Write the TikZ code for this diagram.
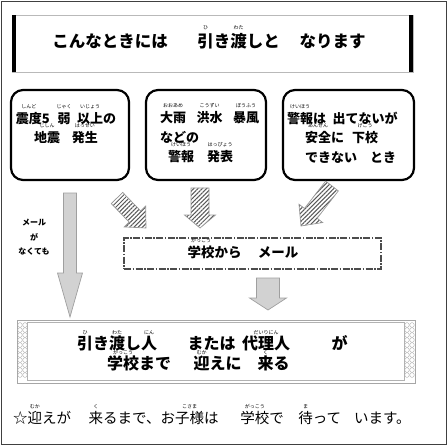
\documentclass[tikz,border=0pt]{standalone}
\usepackage{fontspec}
\setmainfont{Noto Sans CJK JP}
\usetikzlibrary{calc,patterns.meta}

\newlength\rubyup
\setlength\rubyup{15pt}
\newsavebox\rbbase
\newcommand{\rubyfont}{\mdseries\fontsize{5}{5}\selectfont}
\newcommand{\rb}[2]{\leavevmode\sbox\rbbase{#1}\rlap{\makebox[\wd\rbbase]{\smash{\raisebox{\rubyup}{\rubyfont #2}}}}\usebox\rbbase}
\newcommand{\blockarrow}[6]{%
  \coordinate (#3-h) at ($(#3)!#6!(#2)$);
  \path[#1] ($(#2)!#4!90:(#3)$) -- ($(#3-h)!#4!90:(#3)$) -- ($(#3-h)!#5!90:(#3)$)
    -- (#3) -- ($(#3-h)!#5!-90:(#3)$) -- ($(#3-h)!#4!-90:(#3)$)
    -- ($(#2)!#4!-90:(#3)$) -- cycle;}

\begin{document}
\begin{tikzpicture}[x=1pt,y=-1pt]
  \tikzstyle{titlebox} = [draw=gray!55, line width=.8pt, minimum width=401pt, minimum height=57pt, inner sep=0pt]
  \tikzstyle{situation} = [draw, line width=2.2pt, rounded corners=12pt, minimum height=90pt, inner sep=0pt]
  \tikzstyle{boxtext} = [font=\bfseries\fontsize{13}{19.5}\selectfont, inner sep=0pt]
  \tikzstyle{mailbox} = [draw=black!70, line width=1.4pt, dash pattern=on 7pt off 1.5pt on 1.5pt off 1.5pt, minimum width=257pt, minimum height=31pt, inner sep=0pt]
  \tikzstyle{resultbox} = [draw=gray!70, line width=.8pt, minimum width=398pt, minimum height=63pt, inner sep=0pt]
  \tikzstyle{greyarrow} = [draw=gray!75, fill=gray!35, line width=.7pt]
  \tikzstyle{hatcharrow} = [draw=gray!80, line width=.7pt, pattern={Lines[angle=45,distance=3pt,line width=1pt]}, pattern color=gray!70!black]
  \useasboundingbox (0,0) rectangle (446,446);
  \draw[black!75, line width=1.2pt] (1.6,1.6) rectangle (447,444.4);

  \node[titlebox] (title) at (212.5,43.5) {};
  \fill (title.north west) rectangle ($(title.south west)+(4.5,0)$);
  \fill (title.north east) rectangle ($(title.south east)+(-4.5,0)$);
  \node[font=\bfseries\fontsize{16.5}{20}\selectfont, inner sep=0pt] (titletxt) at (209,41) {\setlength\rubyup{17.5pt}こんなときには\hspace{1.8em}\rb{引}{ひ}き\rb{渡}{わた}しと\hspace{1.2em}なります};

  \node[situation, minimum width=118pt] (quake) at (70,135) {};
  \node[situation, minimum width=120pt] (storm) at (206,135) {};
  \node[situation, minimum width=131pt] (unsafe) at (348.5,135) {};
  \node[boxtext, align=center] (quaketxt) at (66,128) {\rb{震度}{しんど}5\hspace{.6em}\rb{弱}{じゃく}\hspace{.5em}\rb{以上}{いじょう}の\\\rb{地震}{じしん}\hspace{.9em}\rb{発生}{はっせい}};
  \node[boxtext, align=left, anchor=west] (stormtxt) at (160,137.5) {\rb{大雨}{おおあめ}\hspace{.8em}\rb{洪水}{こうずい}\hspace{.8em}\rb{暴風}{ぼうふう}\\などの\\\hspace*{8pt}\rb{警報}{けいほう}\hspace{1em}\rb{発表}{はっぴょう}};
  \node[boxtext, align=left, anchor=west] (unsafetxt) at (287,137.5) {\rb{警報}{けいほう}は\hspace{.5em}出てないが\\\hspace*{18pt}\rb{安全}{あんぜん}に\hspace{.6em}\rb{下校}{げこう}\\\hspace*{18pt}できない\hspace{1em}とき};

  \node[mailbox] (mail) at (252.5,253.5) {};
  \node[font=\bfseries\fontsize{13.5}{16}\selectfont, inner sep=0pt] (mailtxt) at (243,252) {\rb{学校}{がっこう}から\hspace{1.2em}メール};
  \node[font=\bfseries\fontsize{8}{14.5}\selectfont, align=center, inner sep=0pt] (nomail) at (34,237.5) {メール\\が\\なくても};

  \node[resultbox] (result) at (216,351.5) {};
  \draw[gray!60, line width=.5pt] ($(result.north west)+(11,3)$) rectangle ($(result.south east)+(-11,-3)$);
  \foreach \yy in {325,330,...,378} {
    \foreach \xx in {20,25,407,412}
      \draw[gray!60, line width=.4pt] (\xx,\yy) ellipse (2.3pt and 2.4pt);
  }
  \node[font=\bfseries\fontsize{16}{20}\selectfont, align=left, anchor=west, inner sep=0pt] (resulttxt) at (77,353) {\rb{引}{ひ}き\rb{渡}{わた}し\rb{人}{にん}\hspace{1.9em}または\hspace{.4em}\rb{代理人}{だいりにん}\hspace{2.6em}が\\\hspace*{30pt}\rb{学校}{がっこう}まで\hspace{1.4em}\rb{迎}{むか}えに\hspace{1em}\rb{来}{く}る};

  \node[font=\fontsize{14.5}{16}\selectfont, anchor=west, inner sep=0pt] (note) at (13,418) {☆\rb{迎}{むか}えが\hspace{1.2em}\rb{来}{く}るまで、お\rb{子様}{こさま}は\hspace{1.5em}\rb{学校}{がっこう}で\hspace{1em}\rb{待}{ま}って\hspace{.9em}います。};

  \coordinate (nomail-s) at (70,193);
  \coordinate (nomail-e) at (70,317);
  \coordinate (quake-s) at (117,198);
  \coordinate (quake-e) at (146,228);
  \coordinate (storm-s) at (200,188);
  \coordinate (storm-e) at (200,228);
  \coordinate (unsafe-s) at (332,186);
  \coordinate (unsafe-e) at (301,226);
  \coordinate (mail-s) at (268,278);
  \coordinate (mail-e) at (268,310);
  \blockarrow{greyarrow}{nomail-s}{nomail-e}{6.5pt}{12.5pt}{44pt}
  \blockarrow{hatcharrow}{quake-s}{quake-e}{8pt}{15pt}{16pt}
  \blockarrow{hatcharrow}{storm-s}{storm-e}{9pt}{15.5pt}{13pt}
  \blockarrow{hatcharrow}{unsafe-s}{unsafe-e}{8pt}{15pt}{16pt}
  \blockarrow{greyarrow}{mail-s}{mail-e}{11.5pt}{18.5pt}{12pt}
\end{tikzpicture}
\end{document}
